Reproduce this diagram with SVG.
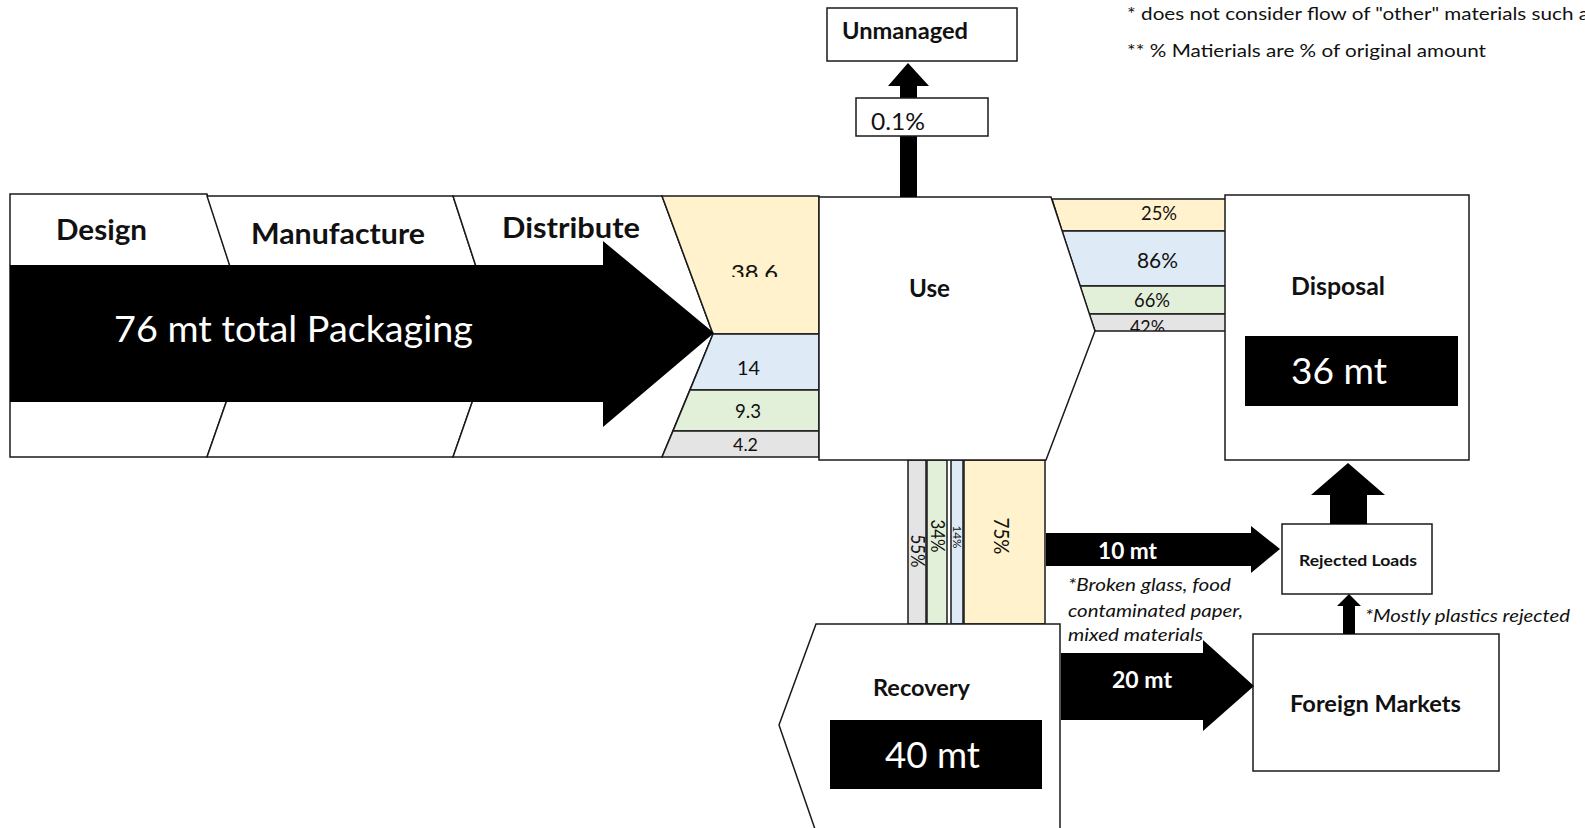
<svg xmlns="http://www.w3.org/2000/svg" width="1585" height="828" viewBox="0 0 1585 828">
<style>
.ln{stroke:#1a1a1a;stroke-width:1.5;stroke-linejoin:miter}
.wh{fill:#ffffff}
.tan{fill:#fff2cc}
.blu{fill:#deebf7}
.grn{fill:#e2f0d9}
.gry{fill:#e4e4e4}
.blk{fill:#000000}
.b{font-family:Lato,"Liberation Sans",sans-serif;font-weight:bold;fill:#111}
.r{font-family:Lato,"Liberation Sans",sans-serif;fill:#111}
.i{font-family:Lato,"Liberation Sans",sans-serif;font-style:italic;fill:#111}
.w{fill:#ffffff}
</style>
<defs>
<clipPath id="c386"><rect x="660" y="196" width="160" height="81"/></clipPath>
<clipPath id="c42"><rect x="1080" y="314" width="150" height="17"/></clipPath>
</defs>
<rect x="0" y="0" width="1585" height="828" fill="#ffffff"/>

<g id="design">
<polygon class="ln wh" points="10,194 207,194 251,331 207,457 10,457"/>
<text class="b" x="56" y="240" font-size="29" textLength="91" lengthAdjust="spacingAndGlyphs">Design</text>
</g>
<g id="manufacture">
<polygon class="ln wh" points="207,196 453,196 497,331 453,457 207,457 251,331"/>
<text class="b" x="251" y="244" font-size="29" textLength="174" lengthAdjust="spacingAndGlyphs">Manufacture</text>
</g>
<g id="distribute">
<polygon class="ln wh" points="453,196 662,196 713,334 662,457 453,457 497,331"/>
<text class="b" x="502" y="238" font-size="29" textLength="138" lengthAdjust="spacingAndGlyphs">Distribute</text>
</g>

<g id="input-bands">
<polygon class="ln tan" points="662,196 819,196 819,334 713,334"/>
<text class="r" x="731" y="280" font-size="22" textLength="47" lengthAdjust="spacingAndGlyphs" clip-path="url(#c386)">38.6</text>
<polygon class="ln blu" points="713,334 819,334 819,390 690,390"/>
<text class="r" x="737" y="375" font-size="20" textLength="23" lengthAdjust="spacingAndGlyphs">14</text>
<polygon class="ln grn" points="690,390 819,390 819,431 673,431"/>
<text class="r" x="735" y="418" font-size="20" textLength="26" lengthAdjust="spacingAndGlyphs">9.3</text>
<polygon class="ln gry" points="673,431 819,431 819,457 662,457"/>
<text class="r" x="733" y="451" font-size="18" textLength="25" lengthAdjust="spacingAndGlyphs">4.2</text>
</g>

<g id="total-packaging">
<polygon class="blk" points="10,265 603,265 603,241 714,333 603,427 603,402 10,402"/>
<text class="r w" x="114" y="342" font-size="37" textLength="359" lengthAdjust="spacingAndGlyphs">76 mt total Packaging</text>
</g>

<g id="disposal-bands">
<polygon class="ln tan" points="1052,199 1230,199 1230,231 1062,231"/>
<text class="r" x="1141" y="220" font-size="19" textLength="36" lengthAdjust="spacingAndGlyphs">25%</text>
<polygon class="ln blu" points="1062,231 1230,231 1230,286 1080,286"/>
<text class="r" x="1137" y="268" font-size="21" textLength="41" lengthAdjust="spacingAndGlyphs">86%</text>
<polygon class="ln grn" points="1080,286 1230,286 1230,314 1089,314"/>
<text class="r" x="1134" y="307" font-size="19" textLength="36" lengthAdjust="spacingAndGlyphs">66%</text>
<polygon class="ln gry" points="1089,314 1230,314 1230,331 1095,331"/>
<text class="r" x="1130" y="334" font-size="19" textLength="35" lengthAdjust="spacingAndGlyphs" clip-path="url(#c42)">42%</text>
</g>

<g id="recovery-bands">
<rect class="ln gry" x="908" y="460" width="18" height="164"/>
<rect class="ln grn" x="927" y="460" width="20" height="164"/>
<rect class="ln blu" x="951" y="460" width="12" height="164"/>
<rect class="ln tan" x="964" y="460" width="81" height="164"/>
<text class="r" transform="translate(917,551) rotate(90)" y="6.5" text-anchor="middle" font-size="19" textLength="33" lengthAdjust="spacingAndGlyphs">55%</text>
<text class="r" transform="translate(937,536) rotate(90)" y="6.5" text-anchor="middle" font-size="19" textLength="33" lengthAdjust="spacingAndGlyphs">34%</text>
<text class="r" transform="translate(957,537) rotate(90)" y="4" text-anchor="middle" font-size="12" textLength="23" lengthAdjust="spacingAndGlyphs">14%</text>
<text class="r" transform="translate(1001,536) rotate(90)" y="7.5" text-anchor="middle" font-size="21" textLength="37" lengthAdjust="spacingAndGlyphs">75%</text>
</g>

<g id="use">
<polygon class="ln wh" points="819,197 1051,197 1095,331 1046,460 819,460"/>
<text class="b" x="909" y="297" font-size="24" textLength="41" lengthAdjust="spacingAndGlyphs">Use</text>
</g>

<g id="disposal">
<rect class="ln wh" x="1225" y="195" width="244" height="265"/>
<text class="b" x="1291" y="295" font-size="24" textLength="94" lengthAdjust="spacingAndGlyphs">Disposal</text>
<rect class="blk" x="1245" y="336" width="213" height="70"/>
<text class="r w" x="1291" y="384" font-size="36" textLength="96" lengthAdjust="spacingAndGlyphs">36 mt</text>
</g>

<g id="recovery">
<polygon class="ln wh" points="816,624 1060,624 1060,832 816,832 779,725"/>
<text class="b" x="873" y="696" font-size="23" textLength="97" lengthAdjust="spacingAndGlyphs">Recovery</text>
<rect class="blk" x="830" y="720" width="212" height="69"/>
<text class="r w" x="885" y="768" font-size="36" textLength="95" lengthAdjust="spacingAndGlyphs">40 mt</text>
</g>

<g id="unmanaged">
<rect class="ln wh" x="827" y="8" width="190" height="53"/>
<text class="b" x="842" y="39" font-size="23" textLength="126" lengthAdjust="spacingAndGlyphs">Unmanaged</text>
</g>

<g id="rejected-loads">
<rect class="ln wh" x="1282" y="524" width="150" height="70"/>
<text class="b" x="1299" y="566" font-size="15" textLength="118" lengthAdjust="spacingAndGlyphs">Rejected Loads</text>
</g>

<g id="foreign-markets">
<rect class="ln wh" x="1253" y="634" width="246" height="137"/>
<text class="b" x="1290" y="712" font-size="23" textLength="171" lengthAdjust="spacingAndGlyphs">Foreign Markets</text>
</g>

<g id="connectors">
<polygon class="blk" points="900,197 900,86 888,86 908,63 929,86 917,86 917,197"/>
<rect class="ln wh" x="856" y="98" width="132" height="38"/>
<text class="r" x="871" y="130" font-size="24" textLength="54" lengthAdjust="spacingAndGlyphs">0.1%</text>
<polygon class="blk" points="1046,533 1251,533 1251,526 1280,549 1251,573 1251,566 1046,566"/>
<text class="b w" x="1098" y="559" font-size="22" textLength="59" lengthAdjust="spacingAndGlyphs">10 mt</text>
<polygon class="blk" points="1061,653 1203,653 1203,640 1254,686 1203,731 1203,720 1061,720"/>
<text class="b w" x="1112" y="688" font-size="22" textLength="60" lengthAdjust="spacingAndGlyphs">20 mt</text>
<polygon class="blk" points="1330,524 1330,495 1311,495 1348,463 1385,495 1367,495 1367,524"/>
<polygon class="blk" points="1343,634 1343,606 1337,606 1349,594 1361,606 1355,606 1355,634"/>
</g>

<g id="notes">
<text class="i" x="1068" y="591" font-size="18" textLength="163" lengthAdjust="spacingAndGlyphs">*Broken glass, food</text>
<text class="i" x="1068" y="617" font-size="18" textLength="175" lengthAdjust="spacingAndGlyphs">contaminated paper,</text>
<text class="i" x="1068" y="641" font-size="18" textLength="135" lengthAdjust="spacingAndGlyphs">mixed materials</text>
<text class="i" x="1365" y="622" font-size="18" textLength="205" lengthAdjust="spacingAndGlyphs">*Mostly plastics rejected</text>
<text class="r" x="1127" y="20" font-size="17" textLength="462" lengthAdjust="spacingAndGlyphs">* does not consider flow of "other" materials such a</text>
<text class="r" x="1127" y="57" font-size="17" textLength="359" lengthAdjust="spacingAndGlyphs">** % Matierials are % of original amount</text>
</g>
</svg>
